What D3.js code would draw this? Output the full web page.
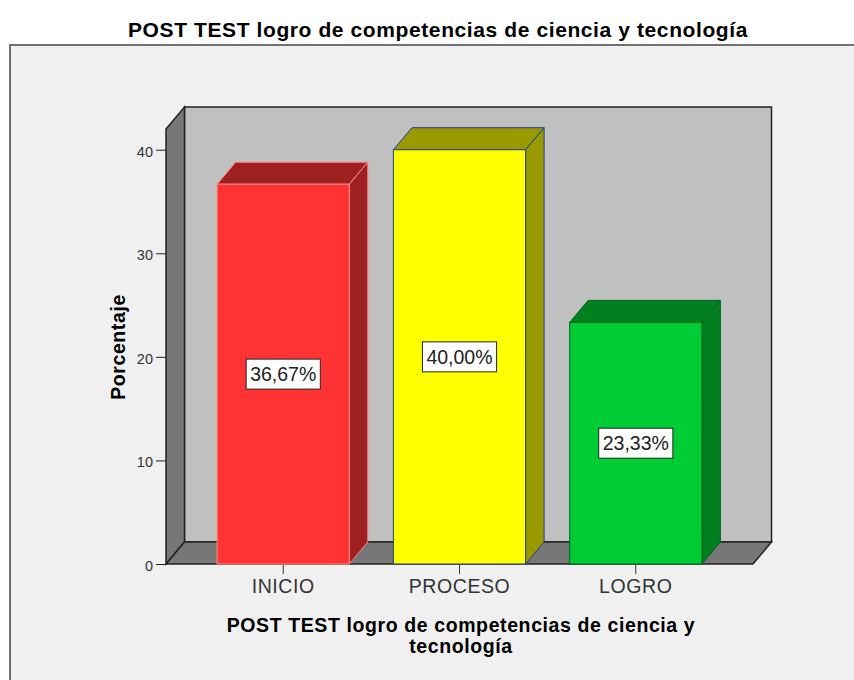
<!DOCTYPE html>
<html>
<head>
<meta charset="utf-8">
<script src="https://cdn.jsdelivr.net/npm/d3@7"></script>
<style>
  body { margin: 0; background: #fff; }
  svg { display: block; font-family: "Liberation Sans", Arial, sans-serif; }
</style>
</head>
<body>
<svg id="chart" width="854" height="680"></svg>
<script>
const categories = ["INICIO", "PROCESO", "LOGRO"];
const percentages = [36.67, 40.00, 23.33];
const valueLabels = ["36,67%", "40,00%", "23,33%"];
const yTicks = [0, 10, 20, 30, 40];

const chartTitle = "POST TEST logro de competencias de ciencia y tecnología";
const xTitleLines = ["POST TEST logro de competencias de ciencia y", "tecnología"];
const yTitle = "Porcentaje";

// face colours per bar: front, top/side, outline
const faces = [
  { front: "#ff3333", shade: "#9e2020", edge: "#ff8a8a" },
  { front: "#ffff00", shade: "#999900", edge: "#1f3f8f" },
  { front: "#00cc33", shade: "#00801f", edge: "#00661a" }
];

const svg = d3.select("#chart");

// depth offset of the 3d box
const dx = 18.5, dy = -22;
const x0 = 166, x1 = 753;

const x = d3.scaleBand().domain(categories).range([x0, x1])
  .paddingInner(0.25).paddingOuter(0.29);
const y = d3.scaleLinear().domain([0, 42]).range([564, 129]);

// frame
svg.append("rect").attr("x", 10).attr("y", 45).attr("width", 900).attr("height", 700)
  .attr("fill", "#f0f0f0").attr("stroke", "#707070").attr("stroke-width", 2);

svg.append("text").attr("x", 438).attr("y", 37).attr("text-anchor", "middle")
  .attr("font-weight", "bold").attr("font-size", 21).attr("letter-spacing", 0.6)
  .attr("fill", "#000").text(chartTitle);

const yb = y(0), yt = y(42);
const poly = pts => pts.map(p => p.join(",")).join(" ");

// back wall
svg.append("rect").attr("x", x0 + dx).attr("y", yt + dy)
  .attr("width", x1 - x0).attr("height", yb - yt)
  .attr("fill", "#c0c0c0").attr("stroke", "#222").attr("stroke-width", 1.5);
// left wall
svg.append("polygon")
  .attr("points", poly([[x0, yt], [x0 + dx, yt + dy], [x0 + dx, yb + dy], [x0, yb]]))
  .attr("fill", "#777").attr("stroke", "#222").attr("stroke-width", 1.5);
// floor
svg.append("polygon")
  .attr("points", poly([[x0, yb], [x0 + dx, yb + dy], [x1 + dx, yb + dy], [x1, yb]]))
  .attr("fill", "#777").attr("stroke", "#222").attr("stroke-width", 1.5);

// y axis on the left wall front edge
const yAxis = svg.append("g").attr("transform", `translate(${x0},0)`)
  .call(d3.axisLeft(y).tickValues(yTicks).tickSize(10).tickFormat(d3.format("d")));
yAxis.select(".domain").remove();
yAxis.selectAll("line").attr("stroke", "#222");
yAxis.selectAll("text").attr("font-size", 14.5).attr("fill", "#333").attr("dy", "0.45em")
  .attr("font-family", "Liberation Sans, Arial, sans-serif");

// bars
const bars = svg.selectAll("g.bar").data(categories).join("g").attr("class", "bar");
bars.each(function (c, i) {
  const g = d3.select(this);
  const bx = x(c), bw = x.bandwidth(), top = y(percentages[i]);
  const f = faces[i];
  g.append("polygon")
    .attr("points", poly([[bx, top], [bx + dx, top + dy], [bx + bw + dx, top + dy], [bx + bw, top]]))
    .attr("fill", f.shade).attr("stroke", f.edge).attr("stroke-width", 1);
  g.append("polygon")
    .attr("points", poly([[bx + bw, top], [bx + bw + dx, top + dy], [bx + bw + dx, yb + dy], [bx + bw, yb]]))
    .attr("fill", f.shade).attr("stroke", f.edge).attr("stroke-width", 1);
  g.append("rect").attr("x", bx).attr("y", top).attr("width", bw).attr("height", yb - top)
    .attr("fill", f.front).attr("stroke", f.edge).attr("stroke-width", 1);
});

// value labels
bars.each(function (c, i) {
  const g = d3.select(this);
  const cx = x(c) + x.bandwidth() / 2, cy = y(percentages[i] / 2);
  const t = g.append("text").attr("x", cx).attr("y", cy + 7).attr("text-anchor", "middle")
    .attr("font-size", 19.5).attr("fill", "#222").text(valueLabels[i]);
  const w = t.node().getComputedTextLength();
  g.insert("rect", "text").attr("x", cx - w / 2 - 4).attr("y", cy - 15)
    .attr("width", w + 8).attr("height", 30)
    .attr("fill", "#fff").attr("stroke", "#222").attr("stroke-width", 1);
});

// x axis
const xAxis = svg.append("g").attr("transform", `translate(0,${yb + 1})`)
  .call(d3.axisBottom(x).tickSize(9).tickPadding(5));
xAxis.select(".domain").remove();
xAxis.selectAll("line").attr("stroke", "#333");
xAxis.selectAll("text").attr("font-size", 19.5).attr("letter-spacing", 0.6).attr("fill", "#333")
  .attr("font-family", "Liberation Sans, Arial, sans-serif");

// axis titles
svg.append("text").attr("x", 461).attr("y", 632).attr("text-anchor", "middle")
  .attr("font-weight", "bold").attr("font-size", 19.5).attr("letter-spacing", 0.6)
  .selectAll("tspan").data(xTitleLines).join("tspan")
  .attr("x", 461).attr("dy", (d, i) => i ? 20.5 : 0).text(d => d);

svg.append("text").attr("transform", "translate(125,347) rotate(-90)")
  .attr("text-anchor", "middle").attr("font-weight", "bold").attr("font-size", 19.5)
  .attr("letter-spacing", 0.6).text(yTitle);
</script>
</body>
</html>
